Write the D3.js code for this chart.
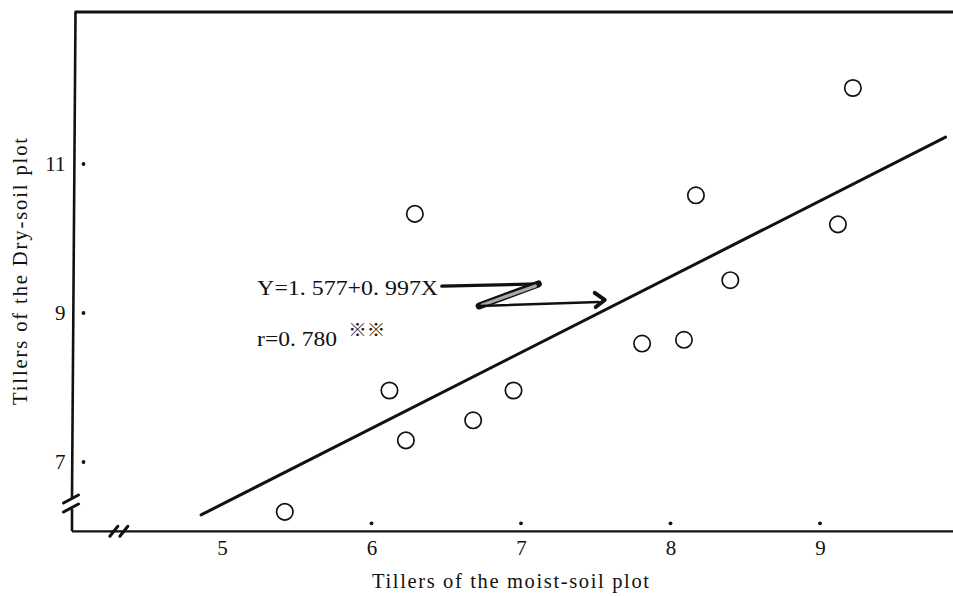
<!DOCTYPE html>
<html>
<head>
<meta charset="utf-8">
<script src="https://cdn.jsdelivr.net/npm/d3@7"></script>
<style>
  html, body { margin: 0; padding: 0; background: #fff; }
  svg { display: block; }
  text { font-family: "Liberation Serif", "DejaVu Serif", serif; fill: #111; }
</style>
</head>
<body>
<svg id="chart" width="953" height="596"></svg>
<script>
// ---- data ----
const moistTillers = [5.42, 6.12, 6.23, 6.29, 6.68, 6.95, 7.81, 8.09, 8.17, 8.40, 9.12, 9.22];
const dryTillers   = [6.33, 7.96, 7.29, 10.33, 7.56, 7.96, 8.59, 8.64, 10.58, 9.44, 10.19, 12.02];
const regLineX = [4.86, 9.84];
const regLineY = [6.29, 11.36];
const xTickValues = [5, 6, 7, 8, 9];
const xTickDots = [6, 7, 8, 9];
const yTickValues = [7, 9, 11];
const xTitle = "Tillers of the moist-soil plot";
const yTitle = "Tillers of the Dry-soil plot";
const eqText = "Y=1. 577+0. 997X";
const rText = "r=0. 780";
const sigText = "※※";

const svg = d3.select("#chart");
const W = 953, H = 596;

const x = d3.scaleLinear().domain([4, 10]).range([72.5, 969.5]);
const y = d3.scaleLinear().domain([6, 13]).range([536.5, 15]);

const xMin = 4, yMin = 6.07, yMax = 13.04;
const yBreak = 6.45, xBreak = 4.31;

const g = svg.append("g");

// frame: top border
g.append("line")
  .attr("x1", x(xMin) + 2).attr("x2", W)
  .attr("y1", y(yMax)).attr("y2", y(yMax))
  .attr("stroke", "#111").attr("stroke-width", 3);

// left axis (with break)
g.append("line")
  .attr("x1", x(xMin) + 3).attr("x2", x(xMin) - 0.5)
  .attr("y1", y(yMax)).attr("y2", y(yBreak) - 5)
  .attr("stroke", "#111").attr("stroke-width", 2.6);
g.append("line")
  .attr("x1", x(xMin) - 0.5).attr("x2", x(xMin) - 0.5)
  .attr("y1", y(yBreak) + 6).attr("y2", y(yMin))
  .attr("stroke", "#111").attr("stroke-width", 2.6);
[-4, 5].forEach(o => {
  g.append("line")
    .attr("x1", x(xMin) - 9).attr("y1", y(yBreak) + o + 4)
    .attr("x2", x(xMin) + 6).attr("y2", y(yBreak) + o - 4)
    .attr("stroke", "#111").attr("stroke-width", 3).attr("stroke-linecap", "round");
});

// bottom axis (with break)
g.append("line")
  .attr("x1", x(xMin) - 0.5).attr("x2", W)
  .attr("y1", y(yMin)).attr("y2", y(yMin))
  .attr("stroke", "#111").attr("stroke-width", 2.2);
[-5, 5].forEach(o => {
  g.append("line")
    .attr("x1", x(xBreak) + o - 4).attr("y1", y(yMin) + 5)
    .attr("x2", x(xBreak) + o + 4).attr("y2", y(yMin) - 5)
    .attr("stroke", "#111").attr("stroke-width", 3).attr("stroke-linecap", "round");
});

// x axis labels via d3 axis
const xAxis = d3.axisBottom(x).tickValues(xTickValues).tickSize(0).tickPadding(9)
  .tickFormat(d3.format("d"));
const xa = g.append("g").attr("transform", `translate(0,${y(yMin)})`).call(xAxis);
xa.select(".domain").remove();
xa.selectAll("text").style("font-size", "21px").style("font-family", "Liberation Serif").attr("fill", "#111");

// x tick dots
g.selectAll(".xdot").data(xTickDots).enter().append("circle")
  .attr("cx", d => x(d)).attr("cy", y(yMin) - 8).attr("r", 1.9).attr("fill", "#111");

// y axis labels
const yAxis = d3.axisLeft(y).tickValues(yTickValues).tickSize(0).tickPadding(7)
  .tickFormat(d3.format("d"));
const ya = g.append("g").attr("transform", `translate(${x(xMin)},0)`).call(yAxis);
ya.select(".domain").remove();
ya.selectAll("text").style("font-size", "21px").style("font-family", "Liberation Serif").attr("fill", "#111");

// y tick dots
g.selectAll(".ydot").data(yTickValues).enter().append("circle")
  .attr("cx", x(xMin) + 11).attr("cy", d => y(d)).attr("r", 1.9).attr("fill", "#111");

// regression line
g.append("line")
  .attr("x1", x(regLineX[0])).attr("y1", y(regLineY[0]))
  .attr("x2", x(regLineX[1])).attr("y2", y(regLineY[1]))
  .attr("stroke", "#111").attr("stroke-width", 3).attr("stroke-linecap", "round");

// points
g.selectAll(".pt").data(moistTillers.map((v, i) => [v, dryTillers[i]])).enter()
  .append("circle")
  .attr("cx", d => x(d[0])).attr("cy", d => y(d[1]))
  .attr("r", 8.2).attr("fill", "none").attr("stroke", "#111").attr("stroke-width", 1.7);

// annotation: equation and r
g.append("text").attr("x", x(5.235)).attr("y", y(9.24))
  .style("font-size", "20px").attr("textLength", 181).attr("lengthAdjust", "spacingAndGlyphs")
  .text(eqText);
g.append("text").attr("x", x(5.235)).attr("y", y(8.555))
  .style("font-size", "20px").attr("textLength", 80).attr("lengthAdjust", "spacingAndGlyphs")
  .text(rText);
g.append("text").attr("x", x(5.845)).attr("y", y(8.69))
  .style("font-size", "17px").style("font-family", "Noto Sans CJK JP").attr("fill", "#555")
  .attr("textLength", 37).attr("lengthAdjust", "spacingAndGlyphs")
  .text(sigText);

// hand-drawn Z arrow (data coordinates)
const arrowA = [6.47, 9.36], arrowB = [7.116, 9.39], arrowC = [6.72, 9.094], arrowD = [7.52, 9.148];
g.append("line")
  .attr("x1", x(arrowA[0])).attr("y1", y(arrowA[1]))
  .attr("x2", x(arrowB[0])).attr("y2", y(arrowB[1]))
  .attr("stroke", "#111").attr("stroke-width", 3.2).attr("stroke-linecap", "round");
g.append("line")
  .attr("x1", x(arrowB[0])).attr("y1", y(arrowB[1]))
  .attr("x2", x(arrowC[0])).attr("y2", y(arrowC[1]))
  .attr("stroke", "#111").attr("stroke-width", 7).attr("stroke-linecap", "round");
g.append("line")
  .attr("x1", x(arrowB[0]) - 3).attr("y1", y(arrowB[1]) + 2)
  .attr("x2", x(arrowC[0]) + 3).attr("y2", y(arrowC[1]) - 1)
  .attr("stroke", "#aaa").attr("stroke-width", 3.2).attr("stroke-linecap", "round");
g.append("line")
  .attr("x1", x(arrowC[0])).attr("y1", y(arrowC[1]))
  .attr("x2", x(arrowD[0])).attr("y2", y(arrowD[1]))
  .attr("stroke", "#111").attr("stroke-width", 2.4).attr("stroke-linecap", "round");
const tipX = x(arrowD[0]) + 6, tipY = y(arrowD[1]) - 1;
g.append("path")
  .attr("d", `M${tipX - 10},${tipY - 8} L${tipX},${tipY - 1} L${tipX - 9},${tipY + 6}`)
  .attr("fill", "none").attr("stroke", "#111").attr("stroke-width", 4)
  .attr("stroke-linecap", "round").attr("stroke-linejoin", "round");

// axis titles
g.append("text").attr("x", 372).attr("y", 588)
  .style("font-size", "20.5px").attr("textLength", 277).attr("lengthAdjust", "spacing")
  .text(xTitle);
g.append("text")
  .attr("transform", `translate(27,${405}) rotate(-90)`)
  .style("font-size", "20.5px").attr("textLength", 267).attr("lengthAdjust", "spacing")
  .text(yTitle);
</script>
</body>
</html>
